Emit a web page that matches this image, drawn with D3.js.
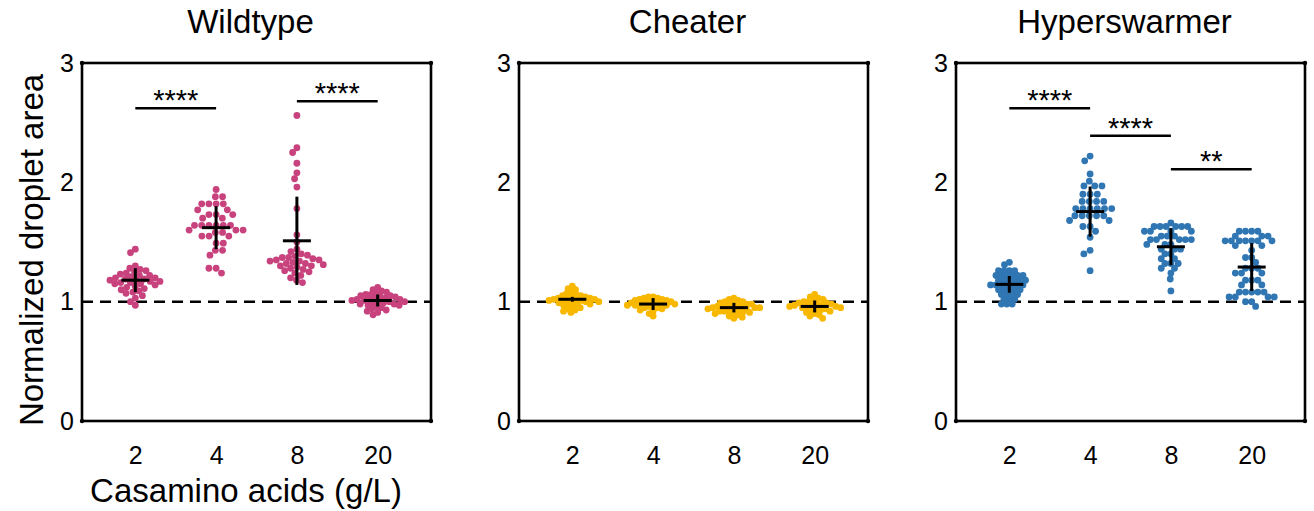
<!DOCTYPE html>
<html>
<head>
<meta charset="utf-8">
<script src="https://cdn.jsdelivr.net/npm/d3@7"></script>
<style>
  body { margin: 0; background: #fff; }
  svg { font-family: "Liberation Sans", Arial, sans-serif; }
</style>
</head>
<body>
<div id="chart"></div>
<script>
// data
const doses = ["2", "4", "8", "20"];
const strains = ["Wildtype", "Cheater", "Hyperswarmer"];
const strainColors = ["#c8437d", "#f8b800", "#2f76b3"];
const yTicks = [0, 1, 2, 3];

const wildtypeValues = [
  [1.44, 1.41, 1.30, 1.28, 1.27, 1.26, 1.25, 1.24, 1.23, 1.22, 1.22, 1.21, 1.20, 1.20, 1.19, 1.19, 1.18, 1.18, 1.17, 1.17, 1.16, 1.16, 1.15, 1.15, 1.14, 1.13, 1.12, 1.11, 1.10, 1.09, 1.08, 1.07, 1.05, 1.03, 1.00, 0.97],
  [1.94, 1.88, 1.88, 1.82, 1.82, 1.82, 1.82, 1.77, 1.77, 1.73, 1.73, 1.73, 1.70, 1.70, 1.64, 1.64, 1.64, 1.64, 1.64, 1.64, 1.60, 1.60, 1.60, 1.58, 1.58, 1.55, 1.55, 1.55, 1.49, 1.49, 1.43, 1.43, 1.39, 1.28, 1.28, 1.24],
  [2.56, 2.29, 2.25, 2.16, 2.08, 2.03, 1.96, 1.78, 1.56, 1.50, 1.44, 1.42, 1.40, 1.39, 1.38, 1.37, 1.37, 1.36, 1.35, 1.35, 1.34, 1.34, 1.33, 1.32, 1.32, 1.31, 1.30, 1.30, 1.29, 1.28, 1.27, 1.26, 1.25, 1.24, 1.22, 1.20, 1.18, 1.16],
  [1.12, 1.10, 1.09, 1.08, 1.07, 1.06, 1.06, 1.05, 1.05, 1.04, 1.04, 1.03, 1.03, 1.02, 1.02, 1.02, 1.01, 1.01, 1.00, 1.00, 1.00, 0.99, 0.99, 0.98, 0.98, 0.97, 0.97, 0.96, 0.95, 0.94, 0.93, 0.92, 0.91, 0.89]
];
const cheaterValues = [
  [1.13, 1.11, 1.10, 1.08, 1.07, 1.06, 1.05, 1.05, 1.04, 1.04, 1.03, 1.03, 1.03, 1.02, 1.02, 1.02, 1.01, 1.01, 1.01, 1.00, 1.00, 1.00, 0.99, 0.99, 0.98, 0.98, 0.97, 0.96, 0.95, 0.94, 0.93, 0.92, 0.91],
  [1.04, 1.04, 1.03, 1.03, 1.02, 1.02, 1.01, 1.01, 1.00, 1.00, 1.00, 0.99, 0.99, 0.99, 0.98, 0.98, 0.98, 0.97, 0.97, 0.97, 0.96, 0.96, 0.95, 0.95, 0.94, 0.93, 0.92, 0.90, 0.88],
  [1.03, 1.02, 1.01, 1.00, 1.00, 0.99, 0.99, 0.98, 0.98, 0.97, 0.97, 0.96, 0.96, 0.96, 0.95, 0.95, 0.95, 0.94, 0.94, 0.94, 0.93, 0.93, 0.92, 0.92, 0.91, 0.91, 0.90, 0.90, 0.89, 0.88, 0.87, 0.86],
  [1.06, 1.04, 1.03, 1.02, 1.01, 1.00, 1.00, 0.99, 0.99, 0.98, 0.98, 0.97, 0.97, 0.97, 0.96, 0.96, 0.96, 0.95, 0.95, 0.94, 0.94, 0.93, 0.93, 0.92, 0.91, 0.90, 0.89, 0.88, 0.86]
];
const hyperValues = [
  [1.33, 1.31, 1.26, 1.26, 1.26, 1.26, 1.22, 1.22, 1.22, 1.22, 1.22, 1.22, 1.18, 1.18, 1.18, 1.18, 1.18, 1.18, 1.14, 1.14, 1.14, 1.14, 1.14, 1.14, 1.14, 1.10, 1.10, 1.10, 1.10, 1.10, 1.06, 1.06, 1.06, 1.06, 1.02, 1.02, 1.02, 0.98, 0.98, 0.98],
  [2.22, 2.18, 2.07, 2.01, 1.97, 1.97, 1.97, 1.90, 1.90, 1.90, 1.84, 1.84, 1.84, 1.84, 1.78, 1.78, 1.78, 1.78, 1.78, 1.78, 1.72, 1.72, 1.72, 1.72, 1.72, 1.68, 1.68, 1.63, 1.63, 1.59, 1.54, 1.43, 1.40, 1.26],
  [1.66, 1.63, 1.63, 1.63, 1.63, 1.63, 1.63, 1.59, 1.59, 1.59, 1.59, 1.55, 1.55, 1.55, 1.52, 1.52, 1.52, 1.52, 1.52, 1.48, 1.48, 1.48, 1.44, 1.44, 1.44, 1.40, 1.40, 1.36, 1.36, 1.32, 1.32, 1.32, 1.28, 1.28, 1.24, 1.19, 1.09],
  [1.59, 1.59, 1.59, 1.59, 1.55, 1.55, 1.55, 1.51, 1.51, 1.51, 1.51, 1.51, 1.51, 1.51, 1.47, 1.47, 1.43, 1.37, 1.37, 1.33, 1.28, 1.28, 1.28, 1.24, 1.24, 1.24, 1.18, 1.18, 1.18, 1.14, 1.14, 1.08, 1.08, 1.08, 1.08, 1.08, 1.04, 1.04, 1.04, 1.04, 1.00, 1.00, 0.96]
];

const wildtypeMean = [1.18, 1.62, 1.51, 1.01];
const wildtypeSD = [0.10, 0.18, 0.37, 0.05];
const cheaterMean = [1.02, 0.98, 0.95, 0.96];
const cheaterSD = [0.02, 0.05, 0.04, 0.05];
const hyperMean = [1.145, 1.755, 1.46, 1.29];
const hyperSD = [0.07, 0.21, 0.155, 0.20];

const wildtypeSig = [
  { from: "2", to: "4", y: 2.62, label: "****" },
  { from: "8", to: "20", y: 2.68, label: "****" }
];
const cheaterSig = [];
const hyperSig = [
  { from: "2", to: "4", y: 2.62, label: "****" },
  { from: "4", to: "8", y: 2.39, label: "****" },
  { from: "8", to: "20", y: 2.11, label: "**" }
];

const panels = [
  { values: wildtypeValues, mean: wildtypeMean, sd: wildtypeSD, sig: wildtypeSig },
  { values: cheaterValues, mean: cheaterMean, sd: cheaterSD, sig: cheaterSig },
  { values: hyperValues, mean: hyperMean, sd: hyperSD, sig: hyperSig }
];

const W = 1314, H = 511;
const panelLeft = [82, 519, 956];
const marginTop = 63, width = 349, height = 358;
const r = 3.4;
const maxHalf = 27; // column half-width limit, dots overlap when crowded

const svg = d3.select("#chart").append("svg")
  .attr("width", W).attr("height", H);

const x = d3.scalePoint().domain(doses).range([0, width]).padding(0.66);
const y = d3.scaleLinear().domain([0, 3]).range([height, 0]);

// beeswarm: place each point as close to the centre line as possible
function swarmAt(vals, d) {
  const pts = vals.map(v => ({ v, py: y(v) })).sort((a, b) => a.py - b.py);
  const placed = [];
  pts.forEach(p => {
    const near = placed.filter(q => Math.abs(q.py - p.py) < d);
    const cands = [0];
    near.forEach(q => {
      const dx = Math.sqrt(d * d - (q.py - p.py) ** 2);
      cands.push(q.dx + dx, q.dx - dx);
    });
    cands.sort((a, b) => Math.abs(a) - Math.abs(b) || a - b);
    for (const c of cands) {
      const ok = near.every(q => (q.dx - c) ** 2 + (q.py - p.py) ** 2 >= d * d - 0.01);
      if (ok) { p.dx = c; break; }
    }
    placed.push(p);
  });
  return placed;
}

function swarm(vals) {
  let d = 2 * r + 0.4, pts = swarmAt(vals, d);
  while (d3.max(pts, p => Math.abs(p.dx)) > maxHalf && d > 2.5) {
    d -= 0.2;
    pts = swarmAt(vals, d);
  }
  return pts;
}

panels.forEach((panel, pi) => {
  const g = svg.append("g").attr("transform", `translate(${panelLeft[pi]},${marginTop})`);

  // title
  g.append("text")
    .attr("x", width / 2 - 6).attr("y", -30)
    .attr("text-anchor", "middle")
    .style("font-size", "33px")
    .text(strains[pi]);

  // dashed reference at 1
  g.append("line")
    .attr("x1", 0).attr("x2", width)
    .attr("y1", y(1)).attr("y2", y(1))
    .attr("stroke", "#000").attr("stroke-width", 2.5)
    .attr("stroke-dasharray", "11,7");

  // points
  panel.values.forEach((vals, ci) => {
    const cx = x(doses[ci]);
    g.append("g").selectAll("circle")
      .data(swarm(vals))
      .enter().append("circle")
      .attr("cx", d => cx + d.dx)
      .attr("cy", d => d.py)
      .attr("r", r)
      .attr("fill", strainColors[pi]);
  });

  // mean +/- sd crosses
  doses.forEach((dose, ci) => {
    const cx = x(dose), m = panel.mean[ci], s = panel.sd[ci];
    g.append("line")
      .attr("x1", cx - 14).attr("x2", cx + 14)
      .attr("y1", y(m)).attr("y2", y(m))
      .attr("stroke", "#000").attr("stroke-width", 3);
    g.append("line")
      .attr("x1", cx).attr("x2", cx)
      .attr("y1", y(m + s)).attr("y2", y(m - s))
      .attr("stroke", "#000").attr("stroke-width", 3);
  });

  // significance bars
  panel.sig.forEach(s => {
    g.append("line")
      .attr("x1", x(s.from)).attr("x2", x(s.to))
      .attr("y1", y(s.y)).attr("y2", y(s.y))
      .attr("stroke", "#000").attr("stroke-width", 2.5);
    g.append("text")
      .attr("x", (x(s.from) + x(s.to)) / 2)
      .attr("y", y(s.y) + 2)
      .attr("text-anchor", "middle")
      .style("font-size", "29px")
      .text(s.label);
  });

  // axes
  const ya = g.append("g")
    .call(d3.axisLeft(y).tickValues(yTicks).tickSize(0).tickPadding(8).tickFormat(d3.format("d")));
  ya.select(".domain").remove();
  ya.selectAll("text").style("font-size", "25px").attr("fill", "#000");

  const xa = g.append("g")
    .attr("transform", `translate(0,${height})`)
    .call(d3.axisBottom(x).tickSize(0).tickPadding(25));
  xa.select(".domain").remove();
  xa.selectAll("text").style("font-size", "25px").attr("fill", "#000");

  // frame
  g.append("rect")
    .attr("width", width).attr("height", height)
    .attr("fill", "none").attr("stroke", "#000").attr("stroke-width", 2.6);
  [[0, 0], [width, 0], [0, height], [width, height]].forEach(c => {
    g.append("circle").attr("cx", c[0]).attr("cy", c[1]).attr("r", 2.2).attr("fill", "#000");
  });
});

// axis titles
svg.append("text")
  .attr("transform", `translate(43,${marginTop + height / 2 + 8}) rotate(-90)`)
  .attr("text-anchor", "middle")
  .style("font-size", "33px")
  .text("Normalized droplet area");

svg.append("text")
  .attr("x", 246).attr("y", 502)
  .attr("text-anchor", "middle")
  .style("font-size", "33px")
  .text("Casamino acids (g/L)");
</script>
</body>
</html>
